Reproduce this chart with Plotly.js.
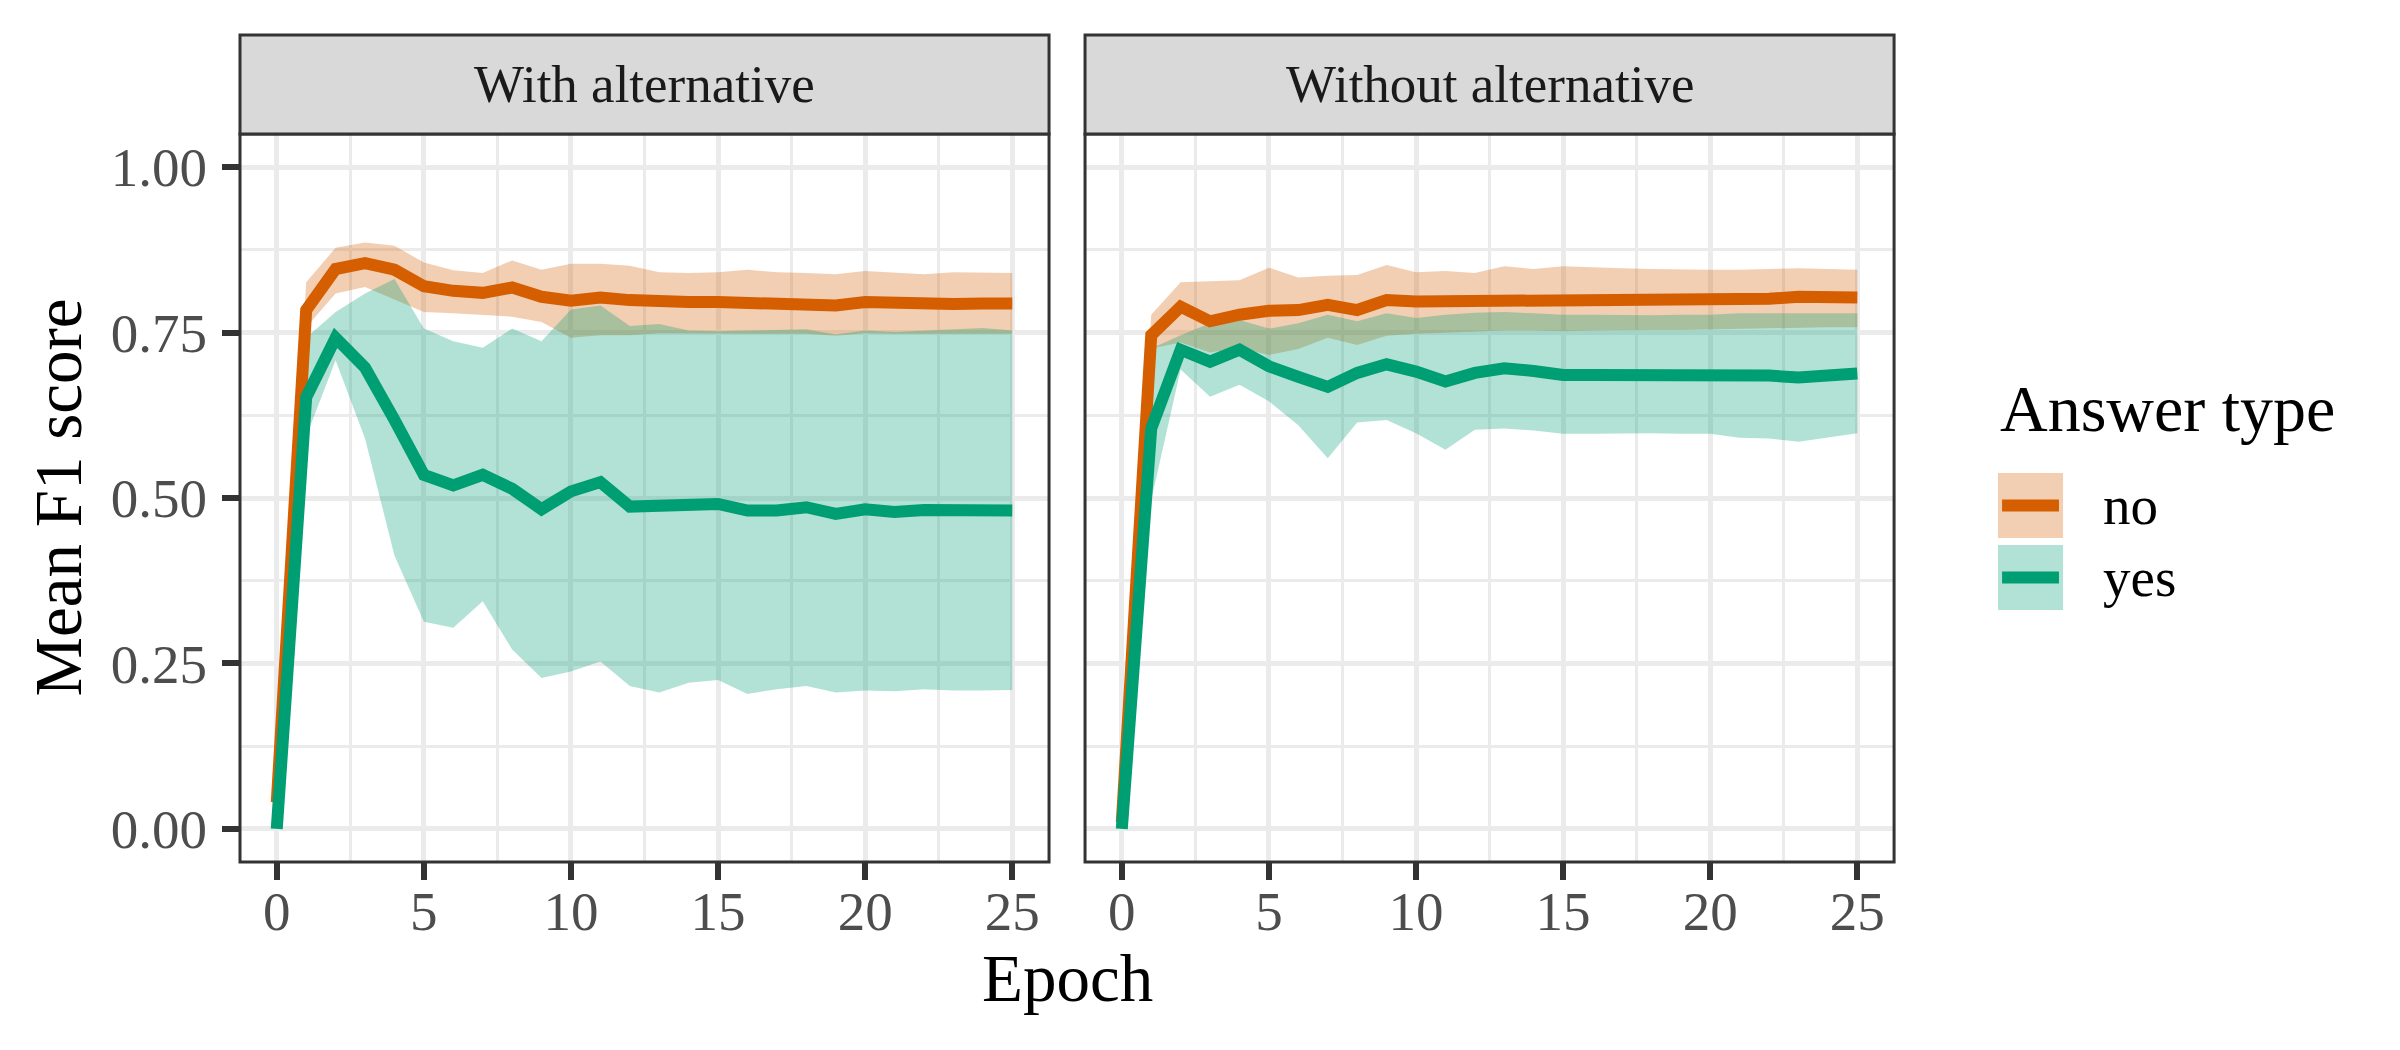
<!DOCTYPE html>
<html>
<head>
<meta charset="utf-8">
<script src="https://cdn.plot.ly/plotly-3.0.1.min.js"></script>
<style>
  html, body { margin: 0; padding: 0; background: #fff; }
  #chart { width: 2400px; height: 1050px; }
</style>
</head>
<body>
<div id="chart"></div>
<script>
// epochs
var epochs = [0, 1, 2, 3, 4, 5, 6, 7, 8, 9, 10, 11, 12, 13, 14, 15, 16, 17, 18, 19, 20, 21, 22, 23, 24, 25];

// With alternative - answer type "no"
var withNoMean  = [0.04, 0.784, 0.846, 0.855, 0.845, 0.82, 0.813, 0.81, 0.818, 0.804, 0.798, 0.803, 0.799, 0.796, 0.796, 0.796, 0.795, 0.795, 0.794, 0.791, 0.796, 0.794, 0.792, 0.793, 0.794, 0.794];
var withNoUpper = [0.07, 0.826, 0.878, 0.886, 0.881, 0.856, 0.844, 0.84, 0.859, 0.845, 0.854, 0.854, 0.851, 0.841, 0.84, 0.841, 0.845, 0.841, 0.84, 0.838, 0.843, 0.84, 0.838, 0.841, 0.84, 0.84];
var withNoLower = [0.01, 0.758, 0.809, 0.819, 0.8, 0.781, 0.779, 0.777, 0.774, 0.766, 0.742, 0.746, 0.746, 0.749, 0.749, 0.748, 0.749, 0.748, 0.748, 0.745, 0.749, 0.748, 0.748, 0.749, 0.749, 0.748];

// With alternative - answer type "yes"
var withYesMean  = [0.0, 0.652, 0.742, 0.697, 0.618, 0.535, 0.519, 0.535, 0.514, 0.483, 0.51, 0.524, 0.487, 0.4875, 0.488, 0.491, 0.481, 0.481, 0.486, 0.476, 0.483, 0.479, 0.482, 0.482, 0.483, 0.481];
var withYesUpper = [0.0, 0.742, 0.781, 0.809, 0.831, 0.756, 0.737, 0.727, 0.756, 0.737, 0.785, 0.791, 0.76, 0.763, 0.753, 0.752, 0.753, 0.754, 0.755, 0.747, 0.753, 0.751, 0.753, 0.756, 0.757, 0.753];
var withYesLower = [0.0, 0.593, 0.708, 0.59, 0.413, 0.313, 0.304, 0.344, 0.271, 0.228, 0.238, 0.253, 0.216, 0.206, 0.221, 0.225, 0.204, 0.211, 0.216, 0.206, 0.209, 0.208, 0.211, 0.209, 0.209, 0.21];

// Without alternative - answer type "no"
var withoutNoMean  = [0.01, 0.746, 0.789, 0.767, 0.777, 0.783, 0.784, 0.792, 0.784, 0.799, 0.797, 0.797, 0.798, 0.801, 0.8, 0.8, 0.801, 0.8, 0.8, 0.8, 0.8, 0.8, 0.801, 0.804, 0.803, 0.803];
var withoutNoUpper = [0.02, 0.777, 0.826, 0.827, 0.829, 0.848, 0.833, 0.836, 0.837, 0.852, 0.841, 0.843, 0.84, 0.85, 0.846, 0.85, 0.848, 0.847, 0.846, 0.845, 0.845, 0.845, 0.846, 0.847, 0.846, 0.845];
var withoutNoLower = [0.0, 0.726, 0.735, 0.72, 0.727, 0.716, 0.725, 0.742, 0.731, 0.745, 0.748, 0.75, 0.752, 0.753, 0.753, 0.752, 0.753, 0.754, 0.754, 0.754, 0.755, 0.756, 0.757, 0.758, 0.758, 0.758];

// Without alternative - answer type "yes"
var withoutYesMean  = [0.0, 0.605, 0.724, 0.706, 0.724, 0.699, 0.683, 0.668, 0.689, 0.702, 0.691, 0.676, 0.689, 0.696, 0.692, 0.686, 0.686, 0.686, 0.686, 0.686, 0.687, 0.686, 0.685, 0.682, 0.685, 0.688];
var withoutYesUpper = [0.0, 0.726, 0.746, 0.764, 0.769, 0.756, 0.764, 0.777, 0.767, 0.779, 0.772, 0.777, 0.78, 0.781, 0.779, 0.777, 0.777, 0.776, 0.776, 0.777, 0.777, 0.779, 0.779, 0.78, 0.78, 0.779];
var withoutYesLower = [0.0, 0.497, 0.694, 0.653, 0.671, 0.646, 0.61, 0.56, 0.614, 0.618, 0.598, 0.573, 0.603, 0.605, 0.602, 0.597, 0.597, 0.598, 0.598, 0.597, 0.597, 0.591, 0.59, 0.585, 0.592, 0.598];

var panelTitles = ['With alternative', 'Without alternative'];
var answerTypes = ['no', 'yes'];
var yTicks = [0, 0.25, 0.5, 0.75, 1];

var colNo = '#D55E00', colYes = '#009E73';
var fillNo = 'rgba(213,94,0,0.3)', fillYes = 'rgba(0,158,115,0.3)';
var serif = 'Liberation Serif, Times New Roman, serif';

function ribbon(lower, upper, fill, xa, ya) {
  return [
    {x: epochs, y: lower, xaxis: xa, yaxis: ya, mode: 'lines', line: {width: 0, color: fill},
     hoverinfo: 'skip', showlegend: false},
    {x: epochs, y: upper, xaxis: xa, yaxis: ya, mode: 'lines', line: {width: 0, color: fill},
     fill: 'tonexty', fillcolor: fill, hoverinfo: 'skip', showlegend: false}
  ];
}

function meanLine(y, color, name, xa, ya) {
  return {x: epochs, y: y, xaxis: xa, yaxis: ya, mode: 'lines', name: name,
          line: {width: 12, color: color}, showlegend: false};
}

var data = [].concat(
  ribbon(withNoLower, withNoUpper, fillNo, 'x', 'y'),
  ribbon(withYesLower, withYesUpper, fillYes, 'x', 'y'),
  ribbon(withoutNoLower, withoutNoUpper, fillNo, 'x2', 'y2'),
  ribbon(withoutYesLower, withoutYesUpper, fillYes, 'x2', 'y2'),
  [meanLine(withNoMean, colNo, answerTypes[0], 'x', 'y'),
   meanLine(withYesMean, colYes, answerTypes[1], 'x', 'y'),
   meanLine(withoutNoMean, colNo, answerTypes[0], 'x2', 'y2'),
   meanLine(withoutYesMean, colYes, answerTypes[1], 'x2', 'y2')]
);

var panelY = [0.17905, 0.87238];
var stripTop = 0.96667;

function xAxis(domain) {
  return {
    domain: domain, range: [-1.25, 26.25], dtick: 5, tick0: 0,
    showgrid: true, gridcolor: '#EBEBEB', gridwidth: 5, zeroline: false,
    minor: {dtick: 2.5, tick0: 0, showgrid: true, gridcolor: '#EBEBEB', gridwidth: 3},
    ticks: 'outside', ticklen: 17, tickwidth: 6, tickcolor: '#333333',
    ticklabelstandoff: -16,
    tickfont: {family: serif, size: 55, color: '#4D4D4D'},
    showline: false, automargin: false, fixedrange: true
  };
}

function yAxis(anchor, labels) {
  return {
    domain: panelY, anchor: anchor, range: [-0.05, 1.05], tickvals: yTicks, tickformat: '.2f',
    showgrid: true, gridcolor: '#EBEBEB', gridwidth: 5, zeroline: false,
    minor: {dtick: 0.125, tick0: 0, showgrid: true, gridcolor: '#EBEBEB', gridwidth: 3},
    ticks: labels ? 'outside' : '', ticklen: 17, tickwidth: 6, tickcolor: '#333333',
    showticklabels: labels, ticklabelstandoff: 4,
    tickfont: {family: serif, size: 55, color: '#4D4D4D'},
    showline: false, automargin: false, fixedrange: true
  };
}

var shapes = [];
var annotations = [];
var axes = [['x', 'y'], ['x2', 'y2']];

// panel borders and strips
for (var i = 0; i < axes.length; i++) {
  shapes.push({type: 'rect', xref: axes[i][0] + ' domain', yref: axes[i][1] + ' domain',
               x0: 0, x1: 1, y0: 0, y1: 1, line: {color: '#333333', width: 3}, layer: 'above'});
  shapes.push({type: 'rect', xref: axes[i][0] + ' domain', yref: 'paper',
               x0: 0, x1: 1, y0: panelY[1], y1: stripTop,
               fillcolor: '#D9D9D9', line: {color: '#333333', width: 3}});
  annotations.push({text: panelTitles[i], xref: axes[i][0] + ' domain', yref: 'paper',
                    x: 0.5, y: (panelY[1] + stripTop) / 2, showarrow: false,
                    xanchor: 'center', yanchor: 'middle',
                    font: {family: serif, size: 53, color: '#1A1A1A'}});
}

// axis titles
annotations.push({text: 'Epoch', xref: 'paper', yref: 'paper', x: 0.4446, y: 0.0686,
                  showarrow: false, xanchor: 'center', yanchor: 'middle',
                  font: {family: serif, size: 67, color: '#000000'}});
annotations.push({text: 'Mean F1 score', xref: 'paper', yref: 'paper', x: 0.024, y: 0.5257,
                  showarrow: false, textangle: -90, xanchor: 'center', yanchor: 'middle',
                  font: {family: serif, size: 67, color: '#000000'}});

// legend drawn by hand (ribbon key + line)
annotations.push({text: 'Answer type', xref: 'paper', yref: 'paper', x: 0.8325, y: 0.611,
                  showarrow: false, xanchor: 'left', yanchor: 'middle',
                  font: {family: serif, size: 66, color: '#000000'}});
var keyFills = [fillNo, fillYes];
var keyCols = [colNo, colYes];
var keyTop = [0.5495, 0.4810];
for (var k = 0; k < answerTypes.length; k++) {
  shapes.push({type: 'rect', xref: 'paper', yref: 'paper', x0: 0.8325, x1: 0.8596,
               y0: keyTop[k] - 0.0619, y1: keyTop[k], fillcolor: keyFills[k], line: {width: 0}});
  shapes.push({type: 'line', xref: 'paper', yref: 'paper', x0: 0.8342, x1: 0.8579,
               y0: keyTop[k] - 0.031, y1: keyTop[k] - 0.031, line: {color: keyCols[k], width: 12}});
  annotations.push({text: answerTypes[k], xref: 'paper', yref: 'paper', x: 0.8754, y: keyTop[k] - 0.031,
                    showarrow: false, xanchor: 'left', yanchor: 'middle',
                    font: {family: serif, size: 55, color: '#000000'}});
}

var layout = {
  width: 2400, height: 1050,
  margin: {l: 0, r: 0, t: 0, b: 0},
  paper_bgcolor: '#FFFFFF', plot_bgcolor: '#FFFFFF',
  showlegend: false,
  xaxis: xAxis([0.1, 0.4371]),
  xaxis2: xAxis([0.4521, 0.7892]),
  yaxis: yAxis('x', true),
  yaxis2: yAxis('x2', false),
  shapes: shapes,
  annotations: annotations
};

Plotly.newPlot('chart', data, layout, {staticPlot: true});
</script>
</body>
</html>
